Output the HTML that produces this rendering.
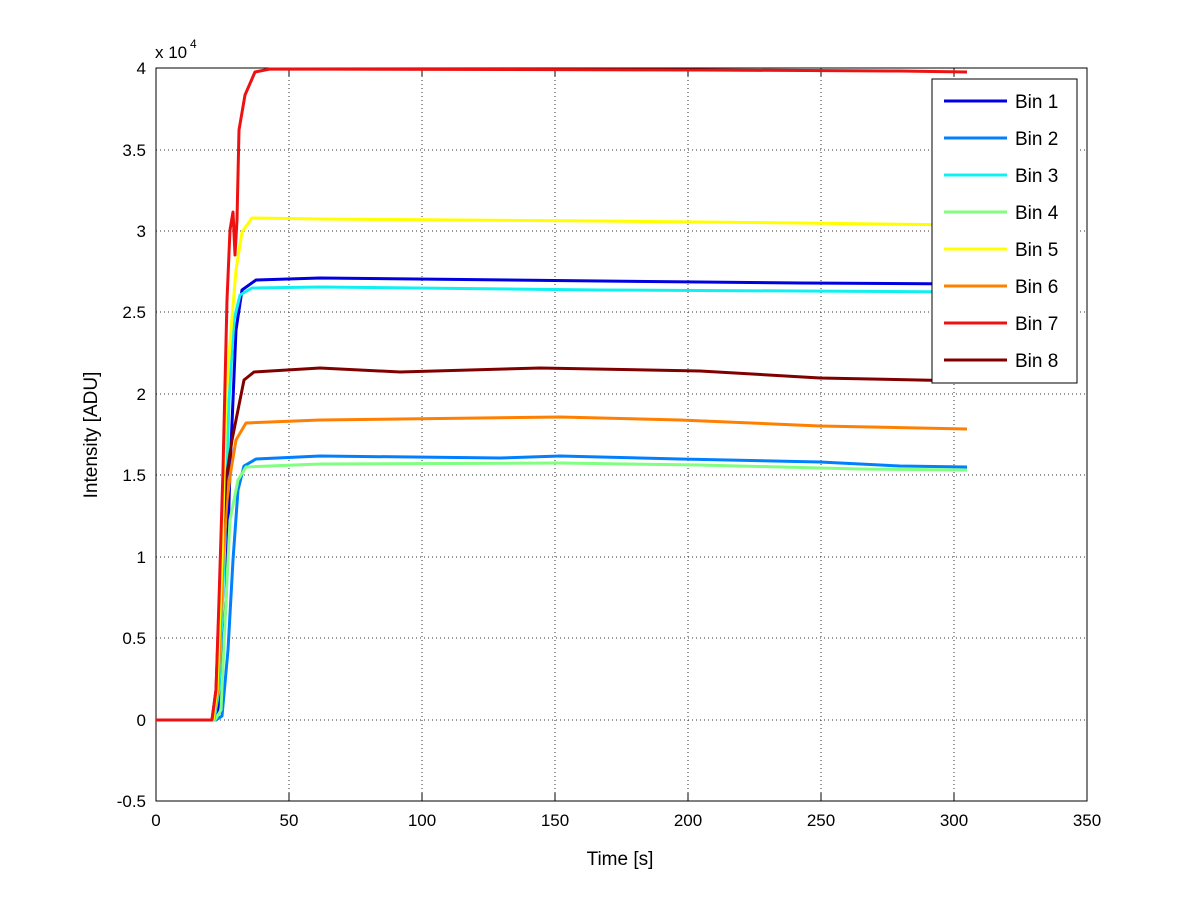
<!DOCTYPE html>
<html><head><style>
body{margin:0;background:#fff;}
svg{display:block;font-family:"Liberation Sans",sans-serif;}
</style></head><body>
<svg width="1200" height="901" xmlns="http://www.w3.org/2000/svg">
<rect width="1200" height="901" fill="#fff"/>
<g stroke="#000" stroke-width="1" stroke-dasharray="1,3" fill="none" opacity="0.8">
<line x1="289" y1="68" x2="289" y2="801"/><line x1="422" y1="68" x2="422" y2="801"/>
<line x1="555" y1="68" x2="555" y2="801"/><line x1="688" y1="68" x2="688" y2="801"/>
<line x1="821" y1="68" x2="821" y2="801"/><line x1="954" y1="68" x2="954" y2="801"/>
<line x1="156" y1="68" x2="1087" y2="68"/><line x1="156" y1="150" x2="1087" y2="150"/>
<line x1="156" y1="231" x2="1087" y2="231"/><line x1="156" y1="312" x2="1087" y2="312"/>
<line x1="156" y1="394" x2="1087" y2="394"/><line x1="156" y1="475" x2="1087" y2="475"/>
<line x1="156" y1="557" x2="1087" y2="557"/><line x1="156" y1="638" x2="1087" y2="638"/>
<line x1="156" y1="720" x2="1087" y2="720"/>
</g>
<rect x="156" y="68" width="931" height="733" fill="none" stroke="#000" stroke-width="1"/>
<g stroke="#000" stroke-width="1">
<line x1="289" y1="801" x2="289" y2="793"/><line x1="422" y1="801" x2="422" y2="793"/>
<line x1="555" y1="801" x2="555" y2="793"/><line x1="688" y1="801" x2="688" y2="793"/>
<line x1="821" y1="801" x2="821" y2="793"/><line x1="954" y1="801" x2="954" y2="793"/>
<line x1="289" y1="68" x2="289" y2="76"/><line x1="422" y1="68" x2="422" y2="76"/>
<line x1="555" y1="68" x2="555" y2="76"/><line x1="688" y1="68" x2="688" y2="76"/>
<line x1="821" y1="68" x2="821" y2="76"/><line x1="954" y1="68" x2="954" y2="76"/>
</g>
<g fill="none" stroke-width="3" stroke-linejoin="round">
<path stroke="#0080ff" d="M156 720 L216 720 L222 716 L228 650 L233 560 L238 490 L244 466 L256 459 L320 456 L500 458 L560 456 L680 459 L820 462 L900 466 L967 467"/>
<path stroke="#0000e0" d="M156 720 L215 720 L220 700 L226 600 L230 470 L236 330 L242 290 L256 280 L320 278 L600 281 L800 283 L967 284"/>
<path stroke="#80ff80" d="M156 720 L215 720 L221 710 L226 600 L230 520 L238 480 L246 467 L320 464 L560 463 L700 465 L860 469 L967 470"/>
<path stroke="#10f0f0" d="M156 720 L214 720 L219 690 L224 560 L229 400 L234 320 L240 295 L252 288 L320 287 L600 290 L800 291 L967 292"/>
<path stroke="#ff8000" d="M156 720 L213 720 L218 690 L223 560 L227 500 L231 470 L236 440 L246 423 L320 420 L560 417 L680 420 L820 426 L967 429"/>
<path stroke="#800000" d="M156 720 L212 720 L216 690 L221 560 L226 480 L232 440 L238 410 L244 380 L254 372 L320 368 L400 372 L540 368 L700 371 L820 378 L967 381"/>
<path stroke="#ffff00" d="M156 720 L213 720 L217 690 L222 560 L226 400 L231 330 L236 270 L242 232 L252 218 L320 219 L600 221 L800 223 L967 225"/>
<path stroke="#ee1111" d="M156 720 L212 720 L216 690 L219 600 L223 470 L227 300 L230 230 L233 212 L235 255 L237 220 L239 130 L245 95 L255 72 L270 69 L700 70 L900 71 L967 72"/>
</g>
<g font-size="17" fill="#000">
<g text-anchor="middle">
<text x="156" y="826">0</text><text x="289" y="826">50</text><text x="422" y="826">100</text>
<text x="555" y="826">150</text><text x="688" y="826">200</text><text x="821" y="826">250</text>
<text x="954" y="826">300</text><text x="1087" y="826">350</text>
</g>
<g text-anchor="end">
<text x="146" y="74">4</text><text x="146" y="156">3.5</text><text x="146" y="237">3</text>
<text x="146" y="318">2.5</text><text x="146" y="400">2</text><text x="146" y="481">1.5</text>
<text x="146" y="563">1</text><text x="146" y="644">0.5</text><text x="146" y="726">0</text>
<text x="146" y="807">-0.5</text>
</g>
<text x="155" y="58">x 10</text><text x="190" y="48" font-size="12">4</text>
<text x="620" y="865" font-size="19" text-anchor="middle">Time [s]</text>
<text transform="translate(97,435) rotate(-90)" font-size="19" text-anchor="middle">Intensity [ADU]</text>
</g>
<rect x="932" y="79" width="145" height="304" fill="#fff" stroke="#000" stroke-width="1"/>
<g stroke-width="3">
<line x1="944" y1="101" x2="1007" y2="101" stroke="#0000e0"/>
<line x1="944" y1="138" x2="1007" y2="138" stroke="#0080ff"/>
<line x1="944" y1="175" x2="1007" y2="175" stroke="#10f0f0"/>
<line x1="944" y1="212" x2="1007" y2="212" stroke="#80ff80"/>
<line x1="944" y1="249" x2="1007" y2="249" stroke="#ffff00"/>
<line x1="944" y1="286" x2="1007" y2="286" stroke="#ff8000"/>
<line x1="944" y1="323" x2="1007" y2="323" stroke="#ee1111"/>
<line x1="944" y1="360" x2="1007" y2="360" stroke="#800000"/>
</g>
<g font-size="19" fill="#000">
<text x="1015" y="108">Bin 1</text><text x="1015" y="145">Bin 2</text><text x="1015" y="182">Bin 3</text>
<text x="1015" y="219">Bin 4</text><text x="1015" y="256">Bin 5</text><text x="1015" y="293">Bin 6</text>
<text x="1015" y="330">Bin 7</text><text x="1015" y="367">Bin 8</text>
</g>
</svg>
</body></html>
